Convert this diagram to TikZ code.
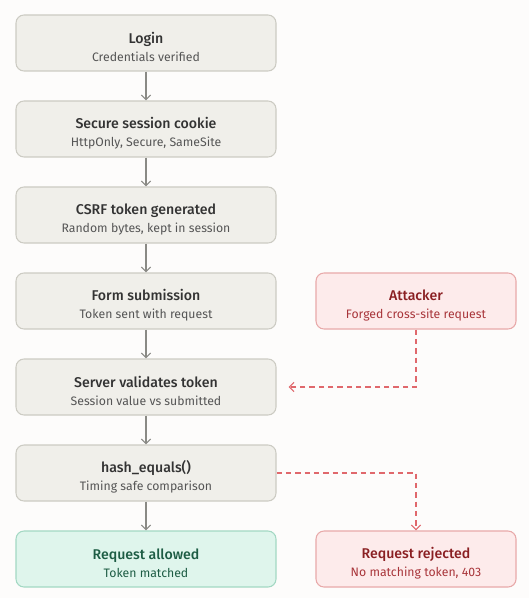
\documentclass[tikz,border=0pt]{standalone}
\usepackage{fontspec}
\setmainfont{Fira Sans}[BoldFont={* Medium}]
\usetikzlibrary{arrows.meta}
\definecolor{bg}{HTML}{FDFCFB}
\definecolor{nfill}{HTML}{F0EFEA}
\definecolor{ndraw}{HTML}{CCCBC3}
\definecolor{ntext}{HTML}{333333}
\definecolor{nsub}{HTML}{555555}
\definecolor{gfill}{HTML}{DFF5EC}
\definecolor{gdraw}{HTML}{A3D8C3}
\definecolor{gtext}{HTML}{1D5C44}
\definecolor{rfill}{HTML}{FDEBEB}
\definecolor{rdraw}{HTML}{E8A9A9}
\definecolor{rtext}{HTML}{8A1F22}
\definecolor{rsub}{HTML}{A8353A}
\definecolor{rline}{HTML}{E0686C}
\definecolor{aline}{HTML}{8A8A85}
\tikzset{
  box/.style={rounded corners=6pt, line width=0.8pt, minimum height=42pt, inner sep=0pt},
  wide/.style={minimum width=195pt},
  narrow/.style={minimum width=150pt},
  neutral/.style={box, fill=nfill, draw=ndraw},
  good/.style={box, fill=gfill, draw=gdraw},
  bad/.style={box, fill=rfill, draw=rdraw},
  lbl/.style={align=center, inner sep=0pt},
  nlbl/.style={lbl, text=ntext},
  glbl/.style={lbl, text=gtext},
  rlbl/.style={lbl, text=rtext},
  flow/.style={draw=aline, line width=0.8pt, -{Straight Barb[length=3.5pt,width=7pt]}},
  attack/.style={draw=rline, line width=0.9pt, dash pattern=on 4pt off 3pt, -{Straight Barb[length=3.5pt,width=7pt]}},
}
\newcommand{\ttl}[1]{{\fontsize{10.6}{13}\selectfont\bfseries #1}}
\newcommand{\sub}[1]{{\fontsize{9.2}{11}\selectfont #1}}
\begin{document}
\begin{tikzpicture}[x=0.75pt,y=-0.75pt]
\fill[bg] (0,0) rectangle (529,598);
\useasboundingbox (0,0) rectangle (529,598);
\node[neutral,wide] (login) at (146,43) {};
\node[neutral,wide] (cookie) at (146,129) {};
\node[neutral,wide] (csrf) at (146,215) {};
\node[neutral,wide] (form) at (146,301) {};
\node[neutral,wide] (valid) at (146,387) {};
\node[neutral,wide] (hash) at (146,473) {};
\node[good,wide] (allow) at (146,559) {};
\node[bad,narrow] (attacker) at (416,301) {};
\node[bad,narrow] (reject) at (416,559) {};
\node[nlbl] (login-t) at ([yshift=-3pt]login.center) {\ttl{Login}\\[1.5pt]\sub{\color{nsub}Credentials verified}};
\node[nlbl] (cookie-t) at ([yshift=-3pt]cookie.center) {\ttl{Secure session cookie}\\[1.5pt]\sub{\color{nsub}HttpOnly, Secure, SameSite}};
\node[nlbl] (csrf-t) at ([yshift=-3pt]csrf.center) {\ttl{CSRF token generated}\\[1.5pt]\sub{\color{nsub}Random bytes, kept in session}};
\node[nlbl] (form-t) at ([yshift=-3pt]form.center) {\ttl{Form submission}\\[1.5pt]\sub{\color{nsub}Token sent with request}};
\node[nlbl] (valid-t) at ([yshift=-3pt]valid.center) {\ttl{Server validates token}\\[1.5pt]\sub{\color{nsub}Session value vs submitted}};
\node[nlbl] (hash-t) at ([yshift=-3pt]hash.center) {\ttl{hash\_equals()}\\[1.5pt]\sub{\color{nsub}Timing safe comparison}};
\node[glbl] (allow-t) at ([yshift=-3pt]allow.center) {\ttl{Request allowed}\\[1.5pt]\sub{Token matched}};
\node[rlbl] (attacker-t) at ([yshift=-3pt]attacker.center) {\ttl{Attacker}\\[1.5pt]\sub{\color{rsub}Forged cross-site request}};
\node[rlbl] (reject-t) at ([yshift=-3pt]reject.center) {\ttl{Request rejected}\\[1.5pt]\sub{\color{rsub}No matching token, 403}};
\draw[flow] (login) -- (cookie);
\draw[flow] (cookie) -- (csrf);
\draw[flow] (csrf) -- (form);
\draw[flow] (form) -- (valid);
\draw[flow] (valid) -- (hash);
\draw[flow] (hash) -- (allow);
\draw[attack] (attacker.south) |- ([xshift=9pt]valid.east);
\draw[attack] (hash.east) -| (reject.north);
\end{tikzpicture}
\end{document}
